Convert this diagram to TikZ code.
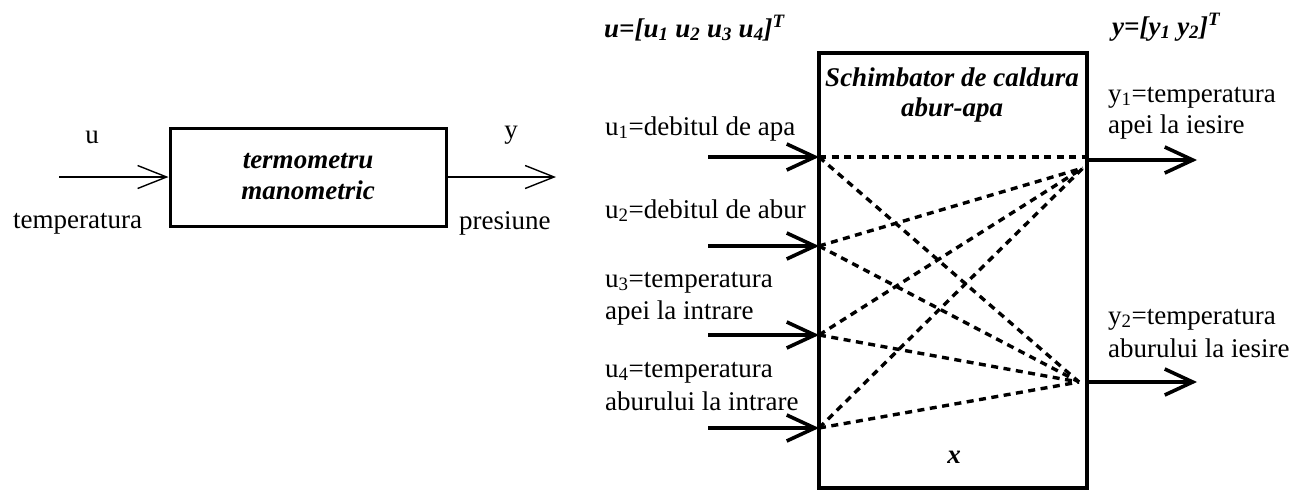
\documentclass[tikz,border=0pt]{standalone}
\usepackage{fontspec}
\setmainfont{Liberation Serif}
\usetikzlibrary{arrows.meta}
\begin{document}
\begin{tikzpicture}[x=1pt,y=-1pt,
  lbl/.style={anchor=base west,inner sep=0pt,font=\fontsize{27}{32}\selectfont},
  bi/.style={font=\fontsize{27}{31}\selectfont\bfseries\itshape},
  blockbox/.style={draw,inner sep=0pt,align=center},
  thinarr/.style={line width=1.4pt,-{Straight Barb[length=29pt,width=23pt]}},
  thickarr/.style={line width=3.6pt,-{Straight Barb[length=28pt,width=26pt]}},
  dots/.style={line width=3.4pt,dash pattern=on 7pt off 5.5pt}]
\useasboundingbox (0,0) rectangle (1299,491);

% ---------- left diagram ----------
\node[blockbox,bi,line width=3pt,minimum width=276pt,minimum height=98pt] (tm) at (308,177) {termometru\\manometric};
\coordinate (uin) at (59,177);
\coordinate (yout) at (556,177);
\draw[thinarr] (uin) -- (tm.west);
\draw[thinarr] (tm.east) -- (yout);
\node[lbl,anchor=base] (lu0) at (92,143) {u};
\node[lbl,anchor=base] (ly0) at (511,138) {y};
\node[lbl] (lt0) at (13,228) {temperatura};
\node[lbl] (lp0) at (459,229) {presiune};

% ---------- right diagram ----------
\node[blockbox,line width=4pt,minimum width=268pt,minimum height=435pt] (hx) at (953,270.5) {};
\node[bi,anchor=base,inner sep=0pt] (hx1) at (952,86) {Schimbator de caldura};
\node[bi,anchor=base,inner sep=0pt] (hx2) at (952,116) {abur-apa};
\node[bi,anchor=base,inner sep=0pt] (hxx) at (954,463) {x};

\node[lbl,bi] (uvec) at (604,37) {u=[u\textsubscript{1} u\textsubscript{2} u\textsubscript{3} u\textsubscript{4}]\textsuperscript{T}};
\node[lbl,bi] (yvec) at (1112,35) {y=[y\textsubscript{1} y\textsubscript{2}]\textsuperscript{T}};

\node[lbl] (l1) at (605,135) {u\textsubscript{1}=debitul de apa};
\node[lbl] (l2) at (605,218) {u\textsubscript{2}=debitul de abur};
\node[lbl] (l3a) at (605,287) {u\textsubscript{3}=temperatura};
\node[lbl] (l3b) at (605,319) {apei la intrare};
\node[lbl] (l4a) at (605,377) {u\textsubscript{4}=temperatura};
\node[lbl] (l4b) at (605,410) {aburului la intrare};

\node[lbl] (r1a) at (1108,102) {y\textsubscript{1}=temperatura};
\node[lbl] (r1b) at (1108,133) {apei la iesire};
\node[lbl] (r2a) at (1108,324) {y\textsubscript{2}=temperatura};
\node[lbl] (r2b) at (1108,357) {aburului la iesire};

% inputs
\coordinate (s1) at (708,157); \coordinate (in1) at (819,157);
\coordinate (s2) at (708,246); \coordinate (in2) at (819,246);
\coordinate (s3) at (708,335); \coordinate (in3) at (819,335);
\coordinate (s4) at (708,428); \coordinate (in4) at (819,428);
\draw[thickarr] (s1) -- (in1);
\draw[thickarr] (s2) -- (in2);
\draw[thickarr] (s3) -- (in3);
\draw[thickarr] (s4) -- (in4);

% outputs
\coordinate (o1) at (1087,160); \coordinate (e1) at (1197,160);
\coordinate (o2) at (1087,382); \coordinate (e2) at (1197,382);
\draw[thickarr] (o1) -- (e1);
\draw[thickarr] (o2) -- (e2);

% internal couplings
\coordinate (c0) at (1085,157);
\coordinate (c1) at (1083,168);
\coordinate (c2) at (1079,382);
\draw[dots] (in1) -- (c0);
\draw[dots] (in1) -- (c2);
\draw[dots] (in2) -- (c1);
\draw[dots] (in2) -- (c2);
\draw[dots] (in3) -- (c1);
\draw[dots] (in3) -- (c2);
\draw[dots] (in4) -- (c1);
\draw[dots] (in4) -- (c2);
\end{tikzpicture}
\end{document}
